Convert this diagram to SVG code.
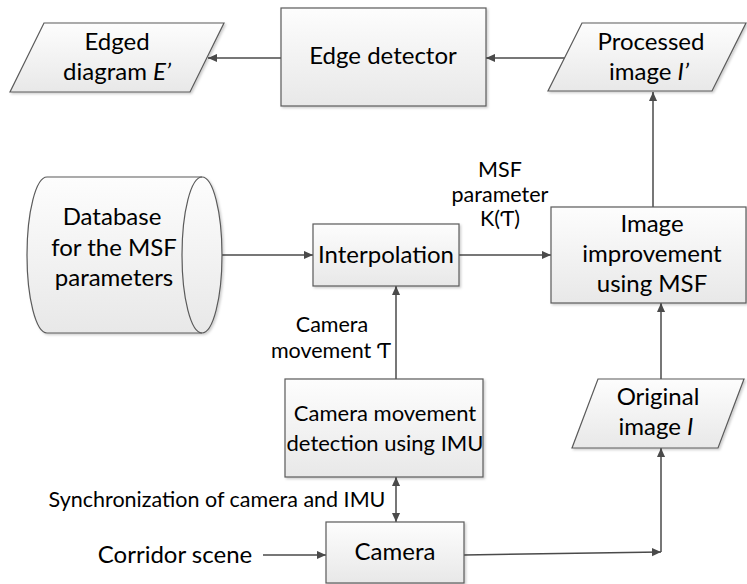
<svg xmlns="http://www.w3.org/2000/svg" width="747" height="584" viewBox="0 0 747 584">
<style>
.shape{fill:url(#g);stroke:#5a5a5a;stroke-width:1.2;filter:url(#sh)}
.t{font-family:Lato,"Liberation Sans",sans-serif;font-size:24px;fill:#000;text-anchor:middle}
.t2{font-family:Lato,"Liberation Sans",sans-serif;font-size:22px;fill:#000;text-anchor:middle}
.s{font-family:Lato,"Liberation Sans",sans-serif;font-size:21.5px;fill:#000;text-anchor:middle}
.c{fill:none;stroke:#4a4a4a;stroke-width:1.5}
</style>
<defs>
<linearGradient id="g" x1="0" y1="0" x2="0" y2="1">
<stop offset="0" stop-color="#fdfdfd"/>
<stop offset="1" stop-color="#e8e8e8"/>
</linearGradient>
<filter id="sh" x="-10%" y="-10%" width="130%" height="130%">
<feDropShadow dx="1.5" dy="1.5" stdDeviation="1" flood-color="#000" flood-opacity="0.2"/>
</filter>
<marker id="a" viewBox="0 0 10 10" refX="10" refY="5" markerWidth="9" markerHeight="9" markerUnits="userSpaceOnUse" orient="auto-start-reverse">
<path d="M0,0.5 L10,5 L0,9.5 Z" fill="#4a4a4a"/>
</marker>
</defs>

<g id="connectors">
<path class="c" d="M281,58 H208" marker-end="url(#a)"/>
<path class="c" d="M565,58 H486" marker-end="url(#a)"/>
<path class="c" d="M653,207 V92" marker-end="url(#a)"/>
<path class="c" d="M222,255 H313" marker-end="url(#a)"/>
<path class="c" d="M459,255 H551" marker-end="url(#a)"/>
<path class="c" d="M396,379 V286" marker-end="url(#a)"/>
<path class="c" d="M396,477 V522" marker-start="url(#a)" marker-end="url(#a)"/>
<path class="c" d="M263,555 H326" marker-end="url(#a)"/>
<path class="c" d="M464,555 L661,552" marker-end="url(#a)"/>
<path class="c" d="M661,552 V448" marker-end="url(#a)"/>
<path class="c" d="M661,379 V303" marker-end="url(#a)"/>
</g>

<g id="edged">
<polygon class="shape" points="44,23 224,23 190,92 10,92"/>
<text class="t" x="117" y="50">Edged</text>
<text class="t" x="117" y="80">diagram <tspan font-style="italic">E’</tspan></text>
</g>

<g id="edge-detector">
<rect class="shape" x="281" y="8" width="205" height="98"/>
<text class="t" x="383" y="64">Edge detector</text>
</g>

<g id="processed">
<polygon class="shape" points="582,23 746,23 712,91 548,91"/>
<text class="t" x="651" y="50">Processed</text>
<text class="t" x="649" y="80">image <tspan font-style="italic">I’</tspan></text>
</g>

<g id="database">
<path class="shape" d="M47,177 L202,177 A20,78 0 0 1 202,333 L47,333 A20,78 0 0 1 47,177 Z"/>
<path fill="none" stroke="#5a5a5a" stroke-width="1.2" d="M202,177 A20,78 0 0 0 202,333"/>
<text class="t" x="112" y="225">Database</text>
<text class="t" x="114" y="256">for the MSF</text>
<text class="t" x="114" y="286">parameters</text>
</g>

<g id="interpolation">
<rect class="shape" x="313" y="224" width="146" height="62"/>
<text class="t" x="386" y="263">Interpolation</text>
</g>

<g id="msf-label">
<text class="s" x="500" y="177">MSF</text>
<text class="s" x="500" y="202">parameter</text>
<text class="s" x="500" y="226">K(Ƭ)</text>
</g>

<g id="image-improvement">
<rect class="shape" x="551" y="207" width="195" height="96"/>
<text class="t" x="652" y="232">Image</text>
<text class="t" x="652" y="262">improvement</text>
<text class="t" x="652" y="292">using MSF</text>
</g>

<g id="movement-label">
<text class="s" x="332" y="332">Camera</text>
<text class="s" x="331" y="358">movement Ƭ</text>
</g>

<g id="movement-detection">
<rect class="shape" x="285" y="379" width="198" height="98"/>
<text class="t2" x="385" y="421">Camera movement</text>
<text class="t2" x="385" y="451">detection using IMU</text>
</g>

<g id="original">
<polygon class="shape" points="598,379 744,379 718,448 572,448"/>
<text class="t" x="658" y="405">Original</text>
<text class="t" x="656" y="435">image <tspan font-style="italic">I</tspan></text>
</g>

<g id="sync-label">
<text class="s" x="217" y="507">Synchronization of camera and IMU</text>
</g>

<g id="corridor">
<text class="t" x="175" y="563">Corridor scene</text>
</g>

<g id="camera">
<rect class="shape" x="326" y="522" width="138" height="61"/>
<text class="t" x="395" y="560">Camera</text>
</g>
</svg>
